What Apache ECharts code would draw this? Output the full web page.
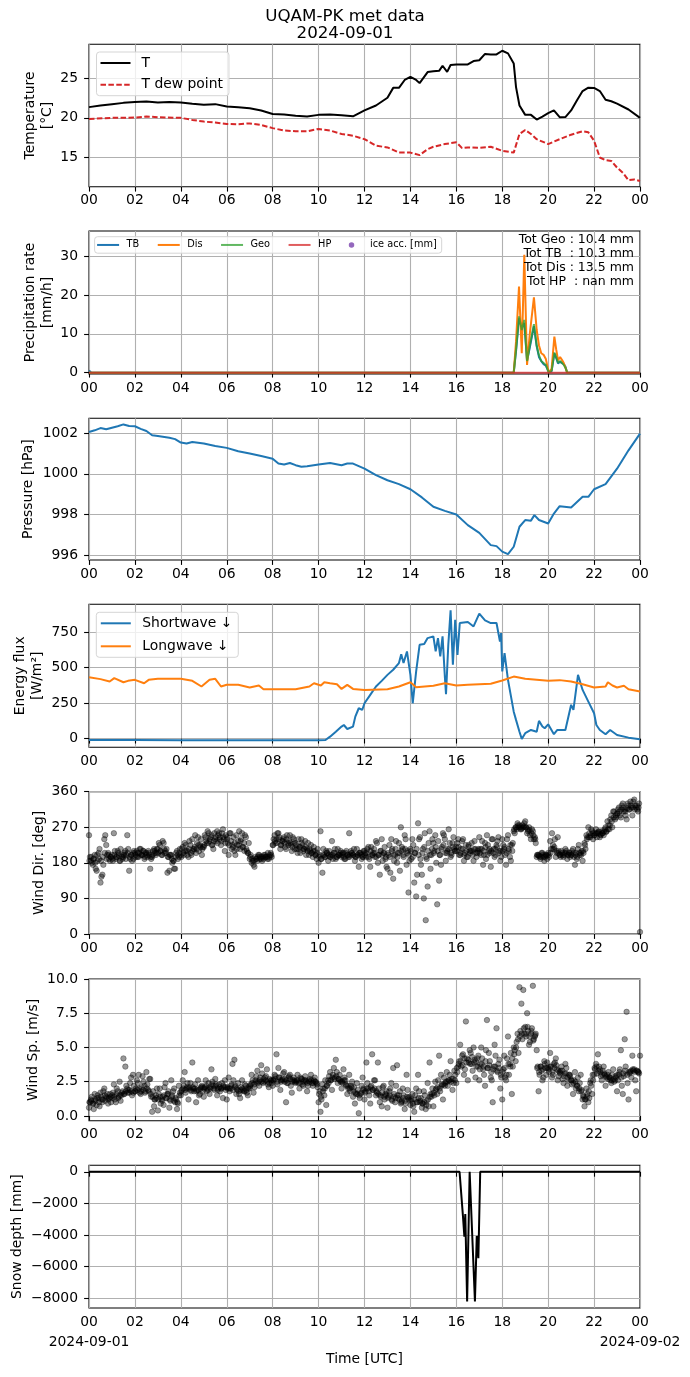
<!DOCTYPE html>
<html><head><meta charset="utf-8">
<script src="https://cdn.jsdelivr.net/npm/echarts@6/dist/echarts.min.js"></script>
<style>html,body{margin:0;padding:0;background:#fff}#c{width:690px;height:1377px}</style>
</head><body><div id="c"></div>
<script>
// ---------- DATA ----------
const tHours = [0,0.5,1,1.5,2,2.5,3,3.5,4,4.5,5,5.5,6,6.5,7,7.5,8,8.5,9,9.5,10,10.5,11,11.5,12,12.5,13,13.25,13.5,13.75,14,14.25,14.4,14.75,15,15.25,15.4,15.6,15.75,16,16.5,16.75,17,17.25,17.5,17.75,18,18.25,18.5,18.6,18.75,19,19.25,19.5,19.75,20,20.25,20.5,20.75,21,21.25,21.5,21.75,22,22.25,22.5,22.75,23,23.5,24];
const tVals = [21.36,21.57,21.74,21.9,22.0,22.08,21.96,22.0,21.96,21.8,21.66,21.74,21.45,21.36,21.23,20.94,20.5,20.43,20.26,20.17,20.38,20.43,20.34,20.2,20.94,21.57,22.55,23.8,23.8,24.8,25.2,24.8,24.4,25.8,25.9,25.96,26.6,25.83,26.7,26.77,26.77,27.2,27.3,28.1,28.04,28.04,28.5,28.17,26.9,23.9,21.57,20.38,20.38,19.79,20.17,20.6,20.94,20.09,20.1,20.94,22.2,23.4,23.83,23.79,23.4,22.3,22.1,21.8,21.06,20.0];
const dHours = [0,1,2,2.5,3,4,4.5,5,5.5,6,6.5,7,7.5,8,8.5,9,9.5,10,10.5,11,11.5,12,12.5,13,13.5,14,14.4,14.75,15,15.5,16,16.25,16.5,17,17.5,18,18.5,18.75,19,19.25,19.5,20,20.5,21,21.5,21.75,22,22.25,22.5,22.75,23,23.25,23.5,23.75,24];
const dVals = [19.87,20.0,20.04,20.17,20.09,20.0,19.74,19.53,19.4,19.23,19.2,19.3,19.1,18.7,18.4,18.3,18.3,18.6,18.4,17.96,17.74,17.3,16.47,16.26,15.6,15.6,15.28,16.04,16.34,16.68,16.9,16.17,16.26,16.2,16.34,15.83,15.6,17.96,18.47,17.96,17.3,16.68,17.3,17.87,18.3,18.17,17.1,14.98,14.64,14.55,13.7,13.06,12.1,12.2,12.0];

const prHours = [0,0.05,0.1,18.5,18.6,18.73,18.85,18.96,19.08,19.2,19.38,19.5,19.6,19.7,19.8,19.9,20.03,20.15,20.27,20.35,20.43,20.52,20.6,20.68,20.75,20.83,24];
const prTB  = [0.6,0.2,0,0,5.5,14.0,11.5,12.8,3,6.5,12.0,6.8,4,3,2.2,1.8,0,0.4,5.0,3.8,2.4,2.8,2.6,2.2,1.6,0,0];
const prDis = [0,0,0,0,8,22.2,5,30.4,2,10,19.4,11,7,5,4.6,3.5,0,1,9.3,6,3.2,4,3.3,2.5,2,0,0];
const prGeo = [0,0,0,0,6,14.5,11,13.6,3,7,12.5,7,4.5,3,2.5,2,0,0.5,5.2,4,2.6,3,2.8,2,1.3,0,0];
const prHP  = [0,0,0,0,0,0,0,0,0,0,0,0,0,0,0,0,0,0,0,0,0,0,0,0,0,0,0];
const totLines = ['Tot Geo : 10.4 mm','Tot TB  : 10.3 mm','Tot Dis : 13.5 mm','Tot HP  : nan mm'];

const pHours = [0,0.25,0.5,0.75,1,1.25,1.5,1.75,2,2.25,2.5,2.75,3,3.5,3.75,4,4.25,4.5,5,5.5,6,6.5,7,7.5,8,8.25,8.5,8.75,9,9.25,9.5,10,10.5,11,11.25,11.5,12,12.5,13,13.5,14,14.5,15,15.5,16,16.5,17,17.5,17.75,18,18.25,18.5,18.75,19,19.25,19.4,19.6,20,20.25,20.5,21,21.5,21.75,22,22.5,23,23.5,24];
const pVals = [1002.05,1002.13,1002.24,1002.18,1002.26,1002.33,1002.42,1002.34,1002.33,1002.2,1002.1,1001.89,1001.85,1001.77,1001.7,1001.53,1001.48,1001.56,1001.48,1001.36,1001.27,1001.1,1000.99,1000.87,1000.74,1000.5,1000.45,1000.53,1000.42,1000.34,1000.37,1000.45,1000.53,1000.42,1000.5,1000.5,1000.25,999.93,999.68,999.49,999.24,998.84,998.38,998.18,998.0,997.48,997.1,996.5,996.45,996.18,996.06,996.42,997.4,997.73,997.7,997.97,997.73,997.56,998.05,998.41,998.35,998.87,998.87,999.24,999.49,1000.25,1001.15,1001.97];

const swHours = [0,2,4,6,8,10,10.3,10.5,10.75,11,11.1,11.25,11.5,11.6,11.75,11.9,12,12.25,12.5,12.75,13,13.25,13.5,13.6,13.7,13.85,14,14.1,14.25,14.4,14.6,14.75,15,15.1,15.2,15.3,15.4,15.5,15.55,15.65,15.75,15.85,15.95,16.05,16.15,16.5,16.75,17,17.25,17.5,17.75,17.9,17.95,18,18.1,18.25,18.5,18.6,18.75,18.85,19,19.25,19.5,19.6,19.75,19.85,20,20.25,20.4,20.75,21,21.1,21.3,21.5,21.75,22,22.1,22.25,22.5,22.7,23,23.5,24];
const swVals = [-10,-10,-12,-12,-12,-12,-10,14,49,85,96,68,85,155,214,202,249,308,367,407,449,485,532,595,532,614,449,249,473,661,666,708,720,614,708,579,720,437,313,661,903,520,837,590,814,821,790,880,833,814,814,684,743,473,602,414,190,132,49,-2,38,61,49,125,85,73,101,31,61,61,238,202,449,343,261,179,96,61,31,61,26,7,-5];
const lwHours = [0,0.5,0.9,1.1,1.5,1.7,2,2.4,2.6,3,3.5,4,4.5,4.9,5.25,5.5,5.75,6,6.5,7,7.4,7.6,8,9,9.6,9.8,10.1,10.25,10.5,10.8,11,11.25,11.5,12,13,13.5,14,14.25,15,15.5,16,16.5,17,17.5,18,18.5,19,20,20.5,21,21.5,22,22.5,22.6,22.8,23,23.3,23.5,24];
const lwVals = [433,419,402,426,397,407,414,390,414,421,421,421,407,367,414,421,367,379,379,360,374,348,348,348,367,390,374,397,390,383,350,379,350,343,348,367,397,362,372,390,374,379,383,386,409,437,421,407,412,402,383,360,367,397,374,360,372,348,332];

// wind: value every 5 minutes (12 per hour) from 00:00, last value at 24:00
const windDir = [
 250,185,175,200,160,205,130,150,240,225,205,185,
 200,255,190,210,185,200,195,210,250,160,200,205,
 205,210,195,215,200,190,205,210,165,195,215,200,
 215,225,200,230,210,155,160,200,185,165,210,195,
 200,220,230,210,195,225,240,215,205,245,225,200,
 220,245,260,235,250,215,240,260,255,225,265,210,
 245,200,255,225,210,250,235,215,255,230,245,205,
 190,180,175,195,185,200,190,195,200,195,190,205,
 225,250,240,255,215,235,245,215,230,250,210,240,
 230,205,220,240,210,235,215,200,225,195,210,190,
 180,260,155,200,210,185,195,235,205,190,215,200,
 195,205,190,200,255,210,200,185,215,170,205,195,
 210,195,220,170,200,215,235,180,150,240,205,190,
 165,225,240,140,200,180,230,270,215,250,175,105,
 215,240,130,95,280,245,150,90,35,120,260,200,
 230,250,75,135,175,255,240,205,265,195,230,215,
 220,240,200,235,185,225,195,210,230,185,215,205,
 245,200,175,230,250,210,170,240,195,225,245,185,
 240,215,175,250,195,225,260,270,280,275,265,270,
 285,255,270,240,260,245,195,200,190,205,185,200,
 205,235,255,215,195,245,200,210,195,215,190,205,
 200,215,175,190,225,205,185,230,250,270,245,260,
 250,265,255,245,260,250,270,285,265,300,310,290,
 305,320,295,330,315,290,325,335,300,340,320,310,
 5];
// second sample, 2.5 minutes after each of the above
const windDir2 = [
 195,180,190,165,185,215,145,175,250,200,190,195,
 185,210,195,200,215,190,205,200,215,190,185,210,
 195,205,215,200,210,205,195,200,190,210,205,215,
 230,210,235,205,215,195,200,180,165,205,190,215,
 215,200,225,210,235,200,215,250,230,210,240,220,
 250,230,255,245,225,255,235,250,245,255,240,250,
 230,255,215,245,200,225,260,240,220,250,210,230,
 200,185,170,190,200,195,185,200,195,205,200,195,
 240,230,255,245,225,240,220,250,235,225,245,215,
 215,240,205,225,215,200,230,210,205,220,200,215,
 200,190,215,195,205,210,200,190,215,195,200,210,
 205,190,210,195,200,205,215,195,200,205,190,210,
 205,215,190,220,205,195,230,200,210,185,220,170,
 200,155,215,185,235,205,160,220,195,240,210,185,
 190,225,205,150,240,175,215,255,190,230,165,240,
 210,180,235,200,220,250,185,215,230,200,245,210,
 230,200,215,240,205,195,225,210,200,235,195,215,
 215,235,200,190,225,205,240,215,200,235,210,195,
 225,200,240,210,185,230,255,265,270,265,275,280,
 270,260,250,265,240,230,200,195,205,195,200,190,
 195,215,225,240,205,210,195,200,205,210,200,195,
 210,195,205,215,200,210,205,215,245,255,265,240,
 255,245,260,250,255,265,260,275,290,270,310,295,
 315,300,325,310,300,330,315,320,335,325,315,330];
// third sample, 1.25 minutes after the first
const windDir3 = [
 185,195,190,180,200,190,185,195,205,190,200,195,
 190,200,195,205,185,195,200,190,205,195,200,190,
 200,195,205,200,210,195,200,205,195,200,210,205,
 205,210,200,215,205,195,200,190,185,195,200,205,
 195,205,210,200,215,205,210,220,215,225,220,215,
 225,235,230,240,225,235,245,230,240,235,245,230,
 240,225,235,220,230,215,225,235,220,210,215,205,
 195,190,185,190,195,190,195,190,195,190,195,200,
 225,235,230,240,225,235,230,240,225,230,220,230,
 225,215,220,230,215,220,210,215,205,210,200,205,
 195,190,200,195,205,200,195,200,205,195,200,205,
 200,195,205,200,195,205,200,195,200,205,200,195,
 200,205,195,210,200,205,195,200,210,200,205,195,
 205,195,210,200,215,195,205,210,200,215,205,200,
 210,195,205,215,200,190,205,220,195,210,200,215,
 205,220,210,200,215,225,205,210,215,205,220,210,
 210,220,205,215,200,210,220,205,210,215,205,210,
 205,215,210,220,200,215,210,205,215,220,205,210,
 210,220,205,215,225,210,265,270,275,270,268,272,
 270,265,262,255,250,240,200,198,195,200,195,198,
 200,205,215,220,210,205,200,205,200,205,200,205,
 200,205,200,195,205,200,210,225,240,245,250,255,
 250,255,258,252,255,260,258,265,275,285,295,300,
 305,310,315,320,310,318,315,325,320,315,325,320];
const windSp = [
 0.6,1.2,0.9,1.6,0.8,1.3,1.7,1.0,2.0,1.4,0.9,1.6,
 1.3,2.3,1.0,1.8,2.5,1.5,4.2,3.6,2.0,1.7,2.8,3.0,
 1.8,2.6,3.0,1.6,2.9,2.2,3.2,1.9,2.7,0.3,0.7,1.5,
 0.4,2.0,1.2,0.8,2.4,1.6,0.6,2.6,1.8,1.0,0.5,2.2,
 1.5,2.6,3.2,2.0,1.2,2.4,3.9,1.8,1.0,2.6,1.6,2.2,
 1.4,2.6,2.0,1.6,3.4,2.2,2.7,1.5,2.3,2.0,1.3,2.6,
 1.2,2.8,2.0,3.8,4.1,1.6,2.4,1.3,2.6,1.8,2.2,1.5,
 2.0,3.0,1.7,2.6,3.3,2.2,3.7,2.4,2.8,3.4,2.1,2.6,
 2.2,3.0,4.5,3.5,1.9,2.6,3.2,1.0,2.4,3.0,1.7,2.8,
 2.4,3.0,2.0,2.7,2.2,2.9,1.8,2.6,3.0,2.2,2.8,2.4,
 1.0,0.3,2.3,1.5,0.8,2.6,3.2,1.9,3.5,4.1,2.4,3.0,
 2.0,3.4,2.6,1.6,3.0,2.2,1.4,0.9,2.4,0.2,1.6,2.8,
 1.2,3.9,2.0,0.9,4.5,2.6,1.5,3.9,1.0,0.7,2.2,1.6,
 0.6,1.8,2.4,3.5,1.0,3.7,1.5,0.9,2.0,0.5,3.0,1.3,
 0.8,1.6,0.3,2.0,3.0,1.0,0.6,1.8,0.5,2.4,3.9,1.4,
 0.7,2.5,1.6,4.4,3.0,1.2,2.2,3.2,2.6,4.0,1.9,3.3,
 2.4,3.6,5.2,4.4,3.0,6.9,2.6,4.8,3.8,5.0,2.8,4.2,
 2.6,5.0,3.4,2.2,7.0,4.6,2.8,1.0,5.2,6.4,3.8,2.0,
 1.2,4.4,2.6,5.8,3.8,1.6,5.0,4.0,6.0,9.4,8.2,9.2,
 6.5,7.5,5.2,6.0,9.5,5.8,4.8,1.8,3.6,2.6,4.0,3.0,
 3.5,4.6,2.8,3.8,4.2,2.6,3.2,3.6,2.4,3.8,2.2,3.0,
 2.6,1.6,3.2,2.2,1.8,3.0,1.2,0.7,2.0,1.0,2.4,1.6,
 3.0,3.8,4.5,3.4,2.6,3.6,2.2,3.0,2.8,2.4,3.4,2.6,
 1.8,3.0,4.8,1.6,5.6,7.6,1.2,3.2,4.4,3.4,1.8,3.2,
 4.4];
const windSp2 = [
 1.0,1.4,0.5,1.1,1.5,0.7,1.2,1.8,1.1,1.6,1.3,1.0,
 1.7,1.2,2.0,1.4,1.1,1.8,1.6,2.2,1.9,2.4,1.5,2.2,
 2.0,2.4,1.7,2.1,2.5,1.8,2.3,2.7,1.4,1.8,1.2,2.0,
 1.6,0.9,1.4,2.1,1.3,1.8,1.1,1.5,2.0,1.2,0.9,1.7,
 1.9,2.2,1.7,2.4,2.1,1.8,2.0,2.3,1.9,1.5,2.1,1.8,
 2.1,1.8,2.4,2.0,2.5,1.9,2.3,2.0,1.8,2.4,2.1,1.9,
 2.0,1.8,2.3,2.6,2.2,1.9,1.6,2.1,1.9,2.3,1.7,2.0,
 2.3,2.6,2.1,2.9,2.5,2.8,3.1,2.5,2.9,2.3,2.7,2.4,
 2.6,2.9,2.3,2.8,2.5,3.1,2.7,2.4,2.9,2.2,2.6,2.5,
 2.6,2.4,2.8,2.3,2.6,2.5,2.2,2.7,2.4,2.6,2.5,2.1,
 1.8,1.2,2.0,2.6,2.2,2.9,2.6,3.0,2.8,3.2,2.7,2.5,
 2.4,2.8,2.2,2.0,1.8,2.5,2.1,1.6,1.9,1.3,2.2,2.0,
 1.8,2.4,1.5,2.2,1.9,2.6,1.7,2.0,1.4,2.1,1.2,1.8,
 1.4,2.0,1.1,1.6,2.2,1.3,1.8,1.1,1.5,0.9,1.9,1.4,
 1.2,0.7,1.5,1.0,1.8,1.3,0.9,1.5,1.1,0.7,1.6,2.0,
 1.5,2.0,2.6,1.8,2.3,2.8,2.5,2.2,3.0,2.7,2.4,3.0,
 3.2,4.0,3.6,4.5,3.4,4.2,3.9,4.6,3.3,4.1,3.6,4.4,
 3.8,4.2,3.0,4.8,3.5,4.0,2.6,3.6,4.4,3.2,4.1,2.8,
 3.4,2.8,4.2,3.0,4.6,3.6,4.8,5.4,4.6,6.2,5.6,6.0,
 5.8,6.2,5.4,6.4,5.6,6.0,3.6,3.0,3.3,2.8,3.5,3.9,
 3.2,3.6,3.0,3.9,3.4,2.9,3.3,2.7,3.1,3.5,2.6,2.9,
 2.3,2.6,2.0,2.8,2.4,1.9,1.4,1.2,1.6,1.3,2.2,2.6,
 3.4,3.1,3.6,2.9,3.3,3.0,2.8,3.2,2.6,3.0,2.5,2.8,
 2.6,3.4,2.2,2.9,3.6,2.4,3.1,2.8,3.3,2.6,3.3,3.1];
const windSp3 = [
 1.0,1.1,0.9,1.2,1.3,1.0,1.4,1.2,1.5,1.3,1.2,1.4,
 1.5,1.4,1.6,1.3,1.5,1.7,1.6,1.8,1.7,1.9,1.8,1.7,
 1.8,1.9,2.0,1.8,1.9,1.7,2.0,1.8,1.6,1.4,1.2,1.3,
 1.2,1.4,1.1,1.5,1.3,1.6,1.2,1.4,1.1,1.3,1.0,1.5,
 1.8,2.0,1.9,2.1,2.0,1.9,2.1,2.0,1.8,1.9,2.0,2.1,
 2.0,2.2,1.9,2.1,2.3,2.0,2.2,1.9,2.1,2.0,2.2,2.1,
 2.1,2.0,2.2,1.9,2.1,2.0,1.8,1.9,2.0,1.8,1.9,2.1,
 2.2,2.4,2.3,2.5,2.4,2.6,2.5,2.7,2.6,2.5,2.4,2.6,
 2.6,2.7,2.5,2.8,2.6,2.7,2.5,2.6,2.8,2.7,2.5,2.6,
 2.5,2.6,2.4,2.7,2.5,2.6,2.4,2.5,2.6,2.4,2.5,2.3,
 1.6,1.4,1.8,2.0,2.2,2.4,2.6,2.8,2.7,2.9,2.7,2.6,
 2.5,2.6,2.3,2.2,2.0,2.1,1.8,1.7,1.6,1.5,1.7,1.9,
 1.7,2.0,1.8,2.1,1.9,2.0,1.8,1.6,1.5,1.7,1.4,1.5,
 1.3,1.5,1.2,1.4,1.3,1.5,1.2,1.0,1.3,1.1,1.4,1.2,
 1.1,0.9,1.2,1.0,1.3,1.1,0.9,1.0,0.8,1.2,1.4,1.6,
 1.7,1.9,2.1,2.0,2.2,2.3,2.4,2.5,2.6,2.5,2.7,2.6,
 3.5,3.8,4.0,3.7,4.2,3.9,4.1,3.8,4.3,3.9,4.0,3.6,
 3.4,3.8,3.6,4.0,3.5,3.7,3.2,3.4,3.6,3.3,3.5,3.0,
 3.2,3.5,3.0,3.8,3.6,4.2,4.5,5.0,5.6,5.8,6.0,6.4,
 6.0,6.5,5.8,6.2,5.5,5.9,3.5,3.2,3.6,3.4,3.8,3.5,
 3.4,3.6,3.2,3.5,3.7,3.3,3.1,3.3,2.9,3.1,2.8,3.0,
 2.6,2.4,2.5,2.2,2.0,1.8,1.5,1.2,1.4,1.8,2.6,3.0,
 3.5,3.6,3.3,3.2,3.0,3.1,2.9,2.7,2.8,2.6,2.7,2.9,
 3.0,3.2,2.8,3.1,3.3,3.0,3.2,3.3,3.4,3.2,3.3,3.2];

const snowHours = [0,16.14,16.29,16.35,16.39,16.47,16.58,16.66,16.81,16.89,16.96,17.04,24];
const snowVals = [0,0,-2840,-4100,-2670,-8210,0,0,-8210,-4060,-5470,0,0];

const dateLabels = ['2024-09-01','2024-09-02'];

// ---------- LAYOUT ----------
const FONT = "'DejaVu Sans', sans-serif";
const FS = 13.9;
const tops = [44.3, 231, 418.3, 604.3, 791.7, 979, 1165.3];
const hts = [142.4, 143, 141.7, 143, 142.3, 141.7, 142.7];
const GRIDC = '#b0b0b0';
const pair = (xs, ys) => xs.map((x, i) => [x, ys[i]]);
const idx = (ys, off) => ys.map((y, i) => [i / 12 + off, y]);
const pad2 = v => String(v % 24).padStart(2, '0');

const grids = tops.map((t, i) => ({left: 89, width: 551, top: t, height: hts[i], show: true,
  outerBoundsMode: 'none', containLabel: false,
  borderColor: '#000', borderWidth: 1.1, backgroundColor: 'transparent'}));

const xAxes = tops.map((t, i) => ({
  type: 'value', gridIndex: i, min: 0, max: 24, interval: 2, position: 'bottom',
  axisLine: {show: false},
  axisTick: {show: true, length: 4.9, lineStyle: {color: '#000', width: 1.1}},
  splitLine: {show: true, lineStyle: {color: GRIDC, width: 1.1}},
  axisLabel: {color: '#000', fontSize: FS, fontFamily: FONT, margin: 7,
    showMinLabel: true, showMaxLabel: true, hideOverlap: false, formatter: v => pad2(v)},
  name: i === 6 ? 'Time [UTC]' : '', nameLocation: 'middle', nameGap: 44, nameMoveOverlap: false,
  nameTextStyle: {color: '#000', fontSize: FS, fontFamily: FONT}
}));
// date labels under the last panel
xAxes.push({
  type: 'value', gridIndex: 6, min: 0, max: 24, position: 'bottom', offset: 0,
  axisLine: {show: false}, axisTick: {show: false}, splitLine: {show: false},
  axisLabel: {color: '#000', fontSize: FS, fontFamily: FONT, margin: 27, customValues: [0, 24],
    showMinLabel: true, showMaxLabel: true, hideOverlap: false,
    formatter: v => v === 0 ? dateLabels[0] : dateLabels[1]}
});

function yAx(i, o) {
  return Object.assign({
    type: 'value', gridIndex: i, scale: true,
    axisLine: {show: false},
    axisTick: {show: true, length: 4.9, lineStyle: {color: '#000', width: 1.1}, customValues: o.ticks},
    splitLine: {show: true, lineStyle: {color: GRIDC, width: 1.1}},
    axisLabel: {color: '#000', fontSize: FS, fontFamily: FONT, margin: 11, customValues: o.ticks,
      formatter: o.fmt || (v => String(v))},
    nameLocation: 'middle', nameRotate: 90, nameMoveOverlap: false,
    nameTextStyle: {color: '#000', fontSize: FS, fontFamily: FONT, lineHeight: 17}
  }, o.extra);
}
const minus = v => String(v).replace('-', '\u2212');
const yAxes = [
  yAx(0, {ticks: [15, 20, 25], extra: {min: 11.28, max: 29.32, name: 'Temperature\n[°C]', nameGap: 33.5}}),
  yAx(1, {ticks: [0, 10, 20, 30], extra: {min: -0.34, max: 36.5, name: 'Precipitation rate\n[mm/h]', nameGap: 33.5}}),
  yAx(2, {ticks: [996, 998, 1000, 1002], extra: {min: 995.77, max: 1002.72, name: 'Pressure [hPa]', nameGap: 52.5}}),
  yAx(3, {ticks: [0, 250, 500, 750], extra: {min: -61, max: 946, name: 'Energy flux\n[W/m²]', nameGap: 43.5}}),
  yAx(4, {ticks: [0, 90, 180, 270, 360], extra: {min: 0, max: 360, name: 'Wind Dir. [deg]', nameGap: 41.5}}),
  yAx(5, {ticks: [0, 2.5, 5, 7.5, 10], fmt: v => v.toFixed(1), extra: {min: -0.35, max: 10, name: 'Wind Sp. [m/s]', nameGap: 47}}),
  yAx(6, {ticks: [-8000, -6000, -4000, -2000, 0], fmt: minus, extra: {min: -8620, max: 410, name: 'Snow depth [mm]', nameGap: 63.5}})
];

function line(name, i, data, color, extra) {
  return Object.assign({type: 'line', name, xAxisIndex: i, yAxisIndex: i, data, symbol: 'none',
    showSymbol: false, animation: false, lineStyle: {color, width: 2}, itemStyle: {color}}, extra || {});
}
function scat(name, i, data) {
  return {type: 'scatter', name, xAxisIndex: i, yAxisIndex: i, data, symbolSize: 5.5, animation: false,
    itemStyle: {color: 'rgba(0,0,0,0.5)', borderColor: 'rgba(0,0,0,0.5)', borderWidth: 0.8}};
}

const series = [
  line('T', 0, pair(tHours, tVals), '#000'),
  line('T dew point', 0, pair(dHours, dVals), '#d62728', {lineStyle: {color: '#d62728', width: 2, type: [5.5, 2.4]}}),
  line('TB', 1, pair(prHours, prTB), '#1f77b4'),
  line('Dis', 1, pair(prHours, prDis), '#ff7f0e'),
  line('Geo', 1, pair(prHours, prGeo), '#2ca02c', {lineStyle: {color: '#2ca02c', width: 2, opacity: 0.75}}),
  line('HP', 1, pair(prHours, prHP), '#d62728', {lineStyle: {color: '#d62728', width: 2, opacity: 0.75}}),
  {type: 'scatter', name: 'ice acc. [mm]', xAxisIndex: 1, yAxisIndex: 1, data: [], itemStyle: {color: '#9467bd'}},
  line('Pressure', 2, pair(pHours, pVals), '#1f77b4'),
  line('Shortwave ↓', 3, pair(swHours, swVals), '#1f77b4'),
  line('Longwave ↓', 3, pair(lwHours, lwVals), '#ff7f0e'),
  scat('dir', 4, idx(windDir, 0)),
  scat('dir2', 4, idx(windDir2, 1 / 24)),
  scat('dir3', 4, idx(windDir3, 1 / 48)),
  scat('sp', 5, idx(windSp, 0)),
  scat('sp2', 5, idx(windSp2, 1 / 24)),
  scat('sp3', 5, idx(windSp3, 1 / 48)),
  line('Snow', 6, pair(snowHours, snowVals), '#000')
];

const legBox = {backgroundColor: 'rgba(255,255,255,0.8)', borderColor: '#d5d5d5', borderWidth: 1,
  borderRadius: 3, selectedMode: false, orient: 'vertical', itemStyle: {opacity: 0}};
const legends = [
  Object.assign({}, legBox, {left: 96.5, top: 52, data: ['T', 'T dew point'], itemWidth: 30, itemHeight: 14,
    itemGap: 7.7, padding: [4, 6, 4, 3],
    textStyle: {color: '#000', fontSize: FS, fontFamily: FONT, padding: [0, 0, 0, 6]}}),
  Object.assign({}, legBox, {orient: 'horizontal', left: 94.6, top: 236.7,
    data: ['TB', 'Dis', 'Geo', 'HP', {name: 'ice acc. [mm]', icon: 'circle', itemStyle: {opacity: 1, color: '#9467bd'}}],
    itemWidth: 22, itemHeight: 5.5, itemGap: 17.5, padding: [2.5, 5, 2.5, 1.5],
    textStyle: {color: '#000', fontSize: 9.75, fontFamily: FONT, lineHeight: 11.5, padding: [0, 0, 0, 2.5]}}),
  Object.assign({}, legBox, {left: 96.3, top: 612.3, data: ['Shortwave ↓', 'Longwave ↓'], itemWidth: 30, itemHeight: 14,
    itemGap: 9, padding: [4, 6, 4, 3.5],
    textStyle: {color: '#000', fontSize: FS, fontFamily: FONT, padding: [0, 0, 0, 6.5]}})
];

const chart = echarts.init(document.getElementById('c'), null, {renderer: 'canvas'});
chart.setOption({
  animation: false,
  backgroundColor: '#fff',
  title: {text: 'UQAM-PK met data\n2024-09-01', left: 'center', top: 7.5, padding: 0,
    textStyle: {fontSize: 16.7, fontWeight: 'normal', fontFamily: FONT, color: '#000', lineHeight: 17.5}},
  grid: grids, xAxis: xAxes, yAxis: yAxes, legend: legends, series,
  graphic: [{type: 'text', x: 634, y: 232.5, z: 100,
    style: {text: totLines.join('\n'), align: 'right', verticalAlign: 'top', fontSize: 12.5, fontFamily: FONT, lineHeight: 14, fill: '#000'}}]
});
</script></body></html>
